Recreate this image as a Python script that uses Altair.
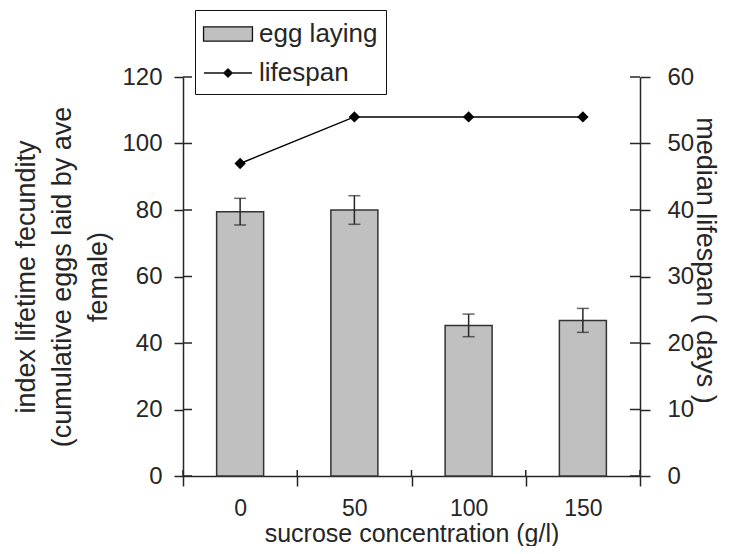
import altair as alt
import pandas as pd

# ---- data ----
sucrose = [0, 50, 100, 150]                 # g/l
egg_laying = [79.5, 80.0, 45.3, 46.8]       # index lifetime fecundity
egg_err = [4.0, 4.3, 3.4, 3.6]
lifespan = [47, 54, 54, 54]                 # median lifespan (days)
left_ticks = [0, 20, 40, 60, 80, 100, 120]
right_ticks = [0, 10, 20, 30, 40, 50, 60]
x_ticks = [-25, 0, 25, 50, 75, 100, 125, 150, 175]
x_bounds = [-25, 25, 75, 125, 175]
series = ["egg laying", "lifespan"]

W, H = 457, 399
FONT = "Liberation Sans"
INK = "#262626"

bars_df = pd.DataFrame({
    "sucrose": sucrose,
    "eggs": egg_laying,
    "lo": [m - e for m, e in zip(egg_laying, egg_err)],
    "hi": [m + e for m, e in zip(egg_laying, egg_err)],
})
life_df = pd.DataFrame({"sucrose": sucrose, "lifespan": lifespan})
lt_df = pd.DataFrame({"v": left_ticks})
rt_df = pd.DataFrame({"v": right_ticks})
xb_df = pd.DataFrame({"b": x_bounds})
leg_df = pd.DataFrame({"series": series})

xscale = alt.Scale(domain=[-25, 175], nice=False, zero=False, padding=0)
ylscale = alt.Scale(domain=[0, 120], nice=False)
yrscale = alt.Scale(domain=[0, 60], nice=False)

x_axis = alt.Axis(
    values=x_ticks,
    labelExpr="datum.value % 50 == 0 ? datum.label : ''",
    labelOverlap=False,
    tickOpacity={"condition": {"test": "datum.value % 50 == 0", "value": 0}, "value": 1},
    tickSize=10, tickWidth=1.5, tickColor=INK,
    domainColor=INK, domainWidth=1.5,
    labelFont=FONT, labelFontSize=23, labelColor=INK, labelPadding=11,
    grid=False,
    title="sucrose concentration (g/l)",
    titleFont=FONT, titleFontSize=25, titleFontWeight="normal", titleColor=INK,
    titleY=65, titleBaseline="alphabetic",
)
yl_axis = alt.Axis(
    values=left_ticks,
    tickSize=9, tickWidth=1.5, tickColor=INK,
    domainColor=INK, domainWidth=1.5,
    labelFont=FONT, labelFontSize=24, labelColor=INK, labelPadding=12,
    grid=False,
    title=["index lifetime fecundity", "(cumulative eggs laid by ave", "female)"],
    titleFont=FONT, titleFontSize=27, titleFontWeight="normal", titleColor=INK,
    titleLineHeight=36, titleBaseline="top", titleX=-170, titleY=H / 2,
    titleAngle=270, titleAlign="center",
)
yr_axis = alt.Axis(
    orient="right",
    values=right_ticks,
    tickSize=10, tickWidth=1.5, tickColor=INK,
    domainColor=INK, domainWidth=1.5,
    labelFont=FONT, labelFontSize=24, labelColor=INK, labelPadding=17,
    grid=False,
    title="median lifespan ( days )",
    titleFont=FONT, titleFontSize=27, titleFontWeight="normal", titleColor=INK,
    titleAngle=90, titleBaseline="middle", titleAlign="center", titleX=64, titleY=183,
)

X = alt.X("sucrose:Q", scale=xscale, axis=x_axis)

bars = alt.Chart(bars_df).mark_bar(
    size=47, fill="#c0c0c0", stroke="#333333", strokeWidth=1.5
).encode(x=X, y=alt.Y("eggs:Q", scale=ylscale, axis=yl_axis))

err = alt.Chart(bars_df).mark_rule(color=INK, strokeWidth=1.5).encode(
    x=X, y=alt.Y("lo:Q", scale=ylscale, axis=yl_axis), y2="hi:Q"
)
caps = alt.Chart(bars_df).transform_fold(["lo", "hi"], as_=["k", "val"]).mark_tick(
    orient="horizontal", size=12, thickness=1.5, color=INK
).encode(x=X, y=alt.Y("val:Q", scale=ylscale, axis=yl_axis))

lt_in = alt.Chart(lt_df).mark_rule(color=INK, strokeWidth=1.5).encode(
    y=alt.Y("v:Q", scale=ylscale, axis=yl_axis), x=alt.value(0), x2=alt.value(9)
)
xb_in = alt.Chart(xb_df).mark_rule(color=INK, strokeWidth=1.5).encode(
    x=alt.X("b:Q", scale=xscale, axis=x_axis), y=alt.value(H - 6), y2=alt.value(H)
)

left = alt.layer(bars, err, caps, lt_in, xb_in)

line = alt.Chart(life_df).mark_line(color="black", strokeWidth=1.5).encode(
    x=X, y=alt.Y("lifespan:Q", scale=yrscale, axis=yr_axis)
)
pts = alt.Chart(life_df).mark_point(
    shape="diamond", filled=True, size=130, color="black", opacity=1
).encode(x=X, y=alt.Y("lifespan:Q", scale=yrscale, axis=yr_axis))
rt_in = alt.Chart(rt_df).mark_rule(color=INK, strokeWidth=1.5).encode(
    y=alt.Y("v:Q", scale=yrscale, axis=yr_axis), x=alt.value(W - 10), x2=alt.value(W)
)

rect_path = "M-1.63,-0.47H1.63V0.47H-1.63Z"
line_diamond_path = "M-1.6,0H1.6M-0.28,0L0,-0.28L0.28,0L0,0.28Z"
legend = alt.Legend(
    title=None, orient="none", legendX=12, legendY=-67, direction="vertical",
    strokeColor="#111111", fillColor="white", padding=8,
    symbolSize=900, rowPadding=10, symbolOffset=9, labelOffset=15,
    symbolStrokeColor="#111111", symbolStrokeWidth=1.3, symbolOpacity=1,
    labelFont=FONT, labelFontSize=26, labelColor=INK,
)
leg = alt.Chart(leg_df).mark_point(
    filled=True, opacity=0, strokeWidth=1.3
).encode(
    x=alt.value(0), y=alt.value(0),
    fill=alt.Fill("series:N", scale=alt.Scale(domain=series, range=["#c0c0c0", "#000000"]), legend=legend),
    stroke=alt.Stroke("series:N", scale=alt.Scale(domain=series, range=["#111111", "#111111"]), legend=legend),
    shape=alt.Shape("series:N", scale=alt.Scale(domain=series, range=[rect_path, line_diamond_path]), legend=legend),
)

right = alt.layer(line, pts, rt_in, leg)

chart = alt.layer(left, right).resolve_scale(y="independent").properties(
    width=W, height=H,
    autosize=alt.AutoSizeParams(type="none"),
    padding={"left": 175, "top": 69, "right": 81, "bottom": 70},
    background="white",
).configure_view(stroke=None).configure_legend(
    symbolStrokeColor="#111111", symbolStrokeWidth=1.3
)

chart.save("out.html", embed_options={"renderer": "svg", "actions": False})
